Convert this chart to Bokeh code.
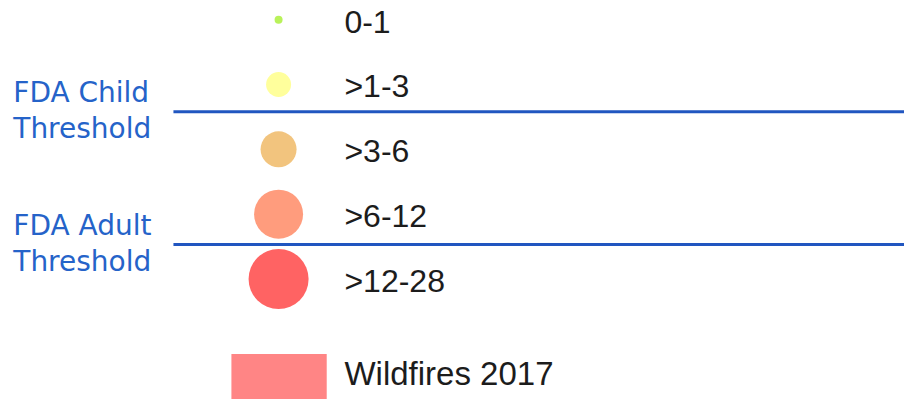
from bokeh.plotting import figure
from bokeh.models import Range1d
from bokeh.core.properties import value
from bokeh.embed import file_html
from bokeh.resources import INLINE

# ---- data ----
bins = ["0-1", ">1-3", ">3-6", ">6-12", ">12-28"]
bin_colors = ["#b9f25a", "#ffff9c", "#f2c47e", "#ff9c7d", "#ff6363"]
bin_sizes = [8, 25, 36, 49, 60]
thresholds = ["FDA Child\nThreshold", "FDA Adult\nThreshold"]
threshold_pos = [1.42, 3.47]        # in category-row units, between rows
area_label = "Wildfires 2017"
area_color = "#ff8585"

# ---- layout (reference-pixel space mapped onto the figure) ----
W, H = 904, 399
REF_W, REF_H = 920, 415
ROW = 67.4      # reference px per category row
TOP = 20.0      # reference px of first row

p = figure(width=W, height=H, output_backend="svg", toolbar_location=None,
           x_range=Range1d(0, REF_W),
           y_range=Range1d((REF_H - TOP) / ROW, (0 - TOP) / ROW),
           min_border=0)
p.axis.visible = False
p.grid.visible = False
p.outline_line_color = None
p.background_fill_color = "white"
p.border_fill_color = "white"

idx = list(range(len(bins)))
p.scatter(x=[283] * len(bins), y=idx, size=bin_sizes, fill_color=bin_colors,
          line_color=None, marker="circle")
p.text(x=[350] * len(bins), y=[i + 0.03 for i in idx], text=bins,
       text_font=value("Liberation Sans"), text_font_size="32px",
       text_color="#1c1c1c", text_baseline="middle", text_align="left")

# threshold lines
for t in threshold_pos:
    p.line(x=[176, REF_W], y=[t, t], line_color="#2156c0", line_width=3)

# threshold labels
for name, t in zip(thresholds, threshold_pos):
    l1, l2 = name.split("\n")
    p.text(x=[13], y=[t - 0.30], text=[l1], text_font=value("DejaVu Sans"),
           text_font_size="28px", text_color="#2563c9", text_baseline="middle")
    p.text(x=[13], y=[t + 0.26], text=[l2], text_font=value("DejaVu Sans"),
           text_font_size="28px", text_color="#2563c9", text_baseline="middle")

# area legend
area_row = len(bins) + 0.46
p.quad(left=[235], right=[332], top=[area_row - 0.30], bottom=[area_row + 1.0],
       fill_color=area_color, line_color=None)
p.text(x=[350], y=[area_row], text=[area_label], text_font=value("Liberation Sans"),
       text_font_size="33px", text_color="#1c1c1c", text_baseline="middle")

open("out.html", "w").write(file_html(p, INLINE))
